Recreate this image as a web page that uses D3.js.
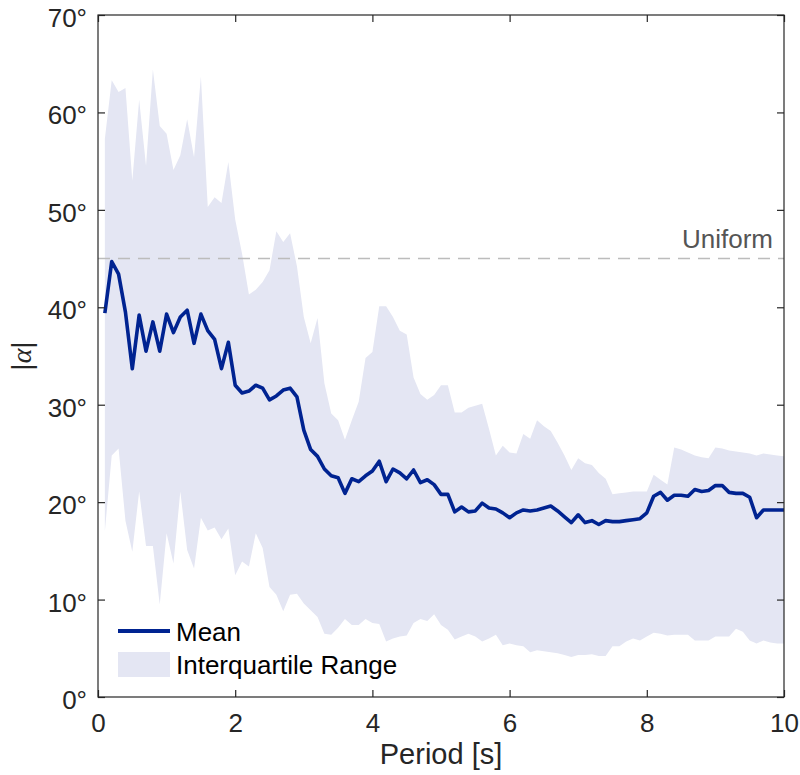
<!DOCTYPE html>
<html>
<head>
<meta charset="utf-8">
<title>|alpha| vs period</title>
<style>
	body { margin: 0; background: #fff; }
	svg text { font-family: "Liberation Sans", Arial, Helvetica, sans-serif; }
	.axis text { font-size: 26px; fill: #262626; }
	.axis line { stroke: #262626; stroke-width: 1.2; }
</style>
</head>
<body>
<svg id="chart" width="800" height="775"></svg>
<script src="https://cdn.jsdelivr.net/npm/d3@7/dist/d3.min.js"></script>
<script>
// period [s], sampled every 0.1 s
var period = [0.1,0.2,0.3,0.4,0.5,0.6,0.7,0.8,0.9,1.0,
	1.1,1.2,1.3,1.4,1.5,1.6,1.7,1.8,1.9,2.0,
	2.1,2.2,2.3,2.4,2.5,2.6,2.7,2.8,2.9,3.0,
	3.1,3.2,3.3,3.4,3.5,3.6,3.7,3.8,3.9,4.0,
	4.1,4.2,4.3,4.4,4.5,4.6,4.7,4.8,4.9,5.0,
	5.1,5.2,5.3,5.4,5.5,5.6,5.7,5.8,5.9,6.0,
	6.1,6.2,6.3,6.4,6.5,6.6,6.7,6.8,6.9,7.0,
	7.1,7.2,7.3,7.4,7.5,7.6,7.7,7.8,7.9,8.0,
	8.1,8.2,8.3,8.4,8.5,8.6,8.7,8.8,8.9,9.0,
	9.1,9.2,9.3,9.4,9.5,9.6,9.7,9.8,9.9,10.0];

// mean |alpha| (degrees)
var meanAlpha = [39.4,44.7,43.4,39.5,33.7,39.2,35.5,38.5,35.5,39.3,
	37.4,39.0,39.7,36.3,39.3,37.6,36.7,33.7,36.4,32.0,
	31.2,31.4,32.0,31.7,30.5,30.9,31.5,31.7,30.8,27.4,
	25.4,24.7,23.4,22.7,22.5,20.9,22.4,22.1,22.7,23.2,
	24.2,22.1,23.4,23.0,22.4,23.3,22.0,22.3,21.8,20.8,
	20.8,19.0,19.5,19.0,19.1,19.9,19.4,19.3,18.9,18.4,
	18.9,19.2,19.1,19.2,19.4,19.6,19.1,18.5,17.9,18.7,
	17.9,18.1,17.7,18.1,18.0,18.0,18.1,18.2,18.3,18.9,
	20.6,21.0,20.2,20.7,20.7,20.6,21.3,21.1,21.2,21.7,
	21.7,21.0,20.9,20.9,20.5,18.4,19.2,19.2,19.2,19.2];

// upper quartile
var q75 = [57.3,63.3,62.1,62.5,53.0,61.3,54.5,64.4,58.6,57.8,
	54.1,55.6,59.3,55.4,63.7,50.3,51.3,50.7,54.9,49.0,
	45.5,41.3,41.8,42.6,43.8,47.8,46.7,47.6,44.2,39.0,
	36.3,38.9,32.2,29.1,28.4,26.4,28.4,30.3,34.8,35.4,
	40.1,40.1,39.0,37.6,37.2,32.8,31.1,30.5,31.0,32.0,
	32.0,29.2,29.2,29.7,29.9,30.1,27.5,24.8,25.8,25.1,
	25.0,27.0,26.5,28.4,27.8,27.3,26.1,24.8,23.3,24.5,
	24.0,23.8,23.0,22.4,20.8,20.9,21.0,21.1,21.1,21.1,
	22.8,22.3,21.8,25.6,25.4,25.1,24.8,24.6,24.5,25.6,
	25.5,25.3,25.2,25.1,25.0,24.8,25.0,24.9,24.8,24.7];

// lower quartile
var q25 = [17.0,24.8,25.5,18.1,14.9,21.1,15.5,15.5,9.5,16.8,
	13.7,21.1,15.1,13.2,18.4,17.1,17.4,16.2,17.3,12.5,
	13.9,13.4,16.8,15.3,11.3,10.5,8.8,10.5,10.6,9.6,
	8.9,8.2,6.5,6.4,7.1,8.0,7.4,7.4,8.0,7.6,
	7.5,5.7,6.0,6.2,6.3,7.6,8.0,7.8,8.5,7.4,
	6.9,5.9,6.2,6.5,6.2,5.7,6.0,6.4,5.3,5.5,
	5.3,5.2,4.6,4.8,4.7,4.6,4.5,4.3,4.1,4.3,
	4.3,4.4,4.2,4.2,5.2,5.2,5.7,6.0,5.8,6.2,
	6.6,6.5,6.3,6.4,6.4,6.4,5.8,5.8,5.8,6.2,
	6.2,6.2,7.0,6.7,5.8,5.5,5.8,5.6,5.5,5.5];

var uniformLevel = 45;
var xTicks = [0, 2, 4, 6, 8, 10];
var yTicks = [0, 10, 20, 30, 40, 50, 60, 70];

var margin = {top: 15, right: 16, bottom: 78, left: 98};
var width = 800 - margin.left - margin.right;
var height = 775 - margin.top - margin.bottom;

var svg = d3.select('#chart');
var g = svg.append('g')
	.attr('transform', 'translate(' + margin.left + ',' + margin.top + ')');

var x = d3.scaleLinear().domain([0, 10]).range([0, width]);
var y = d3.scaleLinear().domain([0, 70]).range([height, 0]);

var rows = period.map(function (p, i) {
	return {p: p, mean: meanAlpha[i], lo: q25[i], hi: q75[i]};
});

// interquartile band
var area = d3.area()
	.x(function (d) { return x(d.p); })
	.y0(function (d) { return y(d.lo); })
	.y1(function (d) { return y(d.hi); });

g.append('path')
	.datum(rows)
	.attr('d', area)
	.attr('fill', '#e4e6f3');

// uniform reference
g.append('line')
	.attr('x1', 0).attr('x2', width)
	.attr('y1', y(uniformLevel)).attr('y2', y(uniformLevel))
	.attr('stroke', '#bcbcbc')
	.attr('stroke-width', 1.5)
	.attr('stroke-dasharray', '12,8');

g.append('text')
	.attr('x', width - 11)
	.attr('y', y(uniformLevel) - 11)
	.attr('text-anchor', 'end')
	.attr('font-size', 26)
	.attr('fill', '#555')
	.text('Uniform');

// mean line
var line = d3.line()
	.x(function (d) { return x(d.p); })
	.y(function (d) { return y(d.mean); });

g.append('path')
	.datum(rows)
	.attr('d', line)
	.attr('fill', 'none')
	.attr('stroke', '#002391')
	.attr('stroke-width', 3.6)
	.attr('stroke-linejoin', 'round');

// axes, ticks pointing inward on all four sides
var fmtDeg = function (d) { return d + '\u00b0'; };

var gx = g.append('g').attr('class', 'axis')
	.attr('transform', 'translate(0,' + height + ')')
	.call(d3.axisBottom(x).tickValues(xTicks).tickSize(-7).tickPadding(17));
var gy = g.append('g').attr('class', 'axis')
	.call(d3.axisLeft(y).tickValues(yTicks).tickFormat(fmtDeg).tickSize(-7).tickPadding(11));
var gt = g.append('g').attr('class', 'axis')
	.call(d3.axisTop(x).tickValues(xTicks).tickSize(-7).tickFormat(''));
var gr = g.append('g').attr('class', 'axis')
	.attr('transform', 'translate(' + width + ',0)')
	.call(d3.axisRight(y).tickValues(yTicks).tickSize(-7).tickFormat(''));

[gx, gy, gt, gr].forEach(function (a) { a.select('.domain').remove(); });
gy.selectAll('text').attr('dy', '0.44em');

g.append('rect')
	.attr('x', 0).attr('y', 0)
	.attr('width', width).attr('height', height)
	.attr('fill', 'none')
	.attr('stroke', '#262626')
	.attr('stroke-width', 1.2);

// axis labels
svg.append('text')
	.attr('x', margin.left + width / 2)
	.attr('y', 764)
	.attr('text-anchor', 'middle')
	.attr('font-size', 29)
	.attr('fill', '#262626')
	.text('Period [s]');

var ylab = svg.append('text')
	.attr('transform', 'translate(31,' + (margin.top + height / 2) + ') rotate(-90)')
	.attr('text-anchor', 'middle')
	.attr('font-size', 28)
	.attr('fill', '#262626');
ylab.append('tspan').text('|');
ylab.append('tspan')
	.style('font-family', '"Liberation Serif", "DejaVu Serif", serif')
	.style('font-style', 'italic')
	.text('\u03b1');
ylab.append('tspan').text('|');

// legend
var leg = svg.append('g');
leg.append('line')
	.attr('x1', 118).attr('x2', 170)
	.attr('y1', 631).attr('y2', 631)
	.attr('stroke', '#002391')
	.attr('stroke-width', 4);
leg.append('text')
	.attr('x', 176).attr('y', 641)
	.attr('font-size', 26)
	.attr('fill', '#000')
	.text('Mean');
leg.append('rect')
	.attr('x', 118).attr('y', 652)
	.attr('width', 52).attr('height', 25)
	.attr('fill', '#e4e6f3');
leg.append('text')
	.attr('x', 176).attr('y', 674)
	.attr('font-size', 26)
	.attr('fill', '#000')
	.text('Interquartile Range');
</script>
</body>
</html>
